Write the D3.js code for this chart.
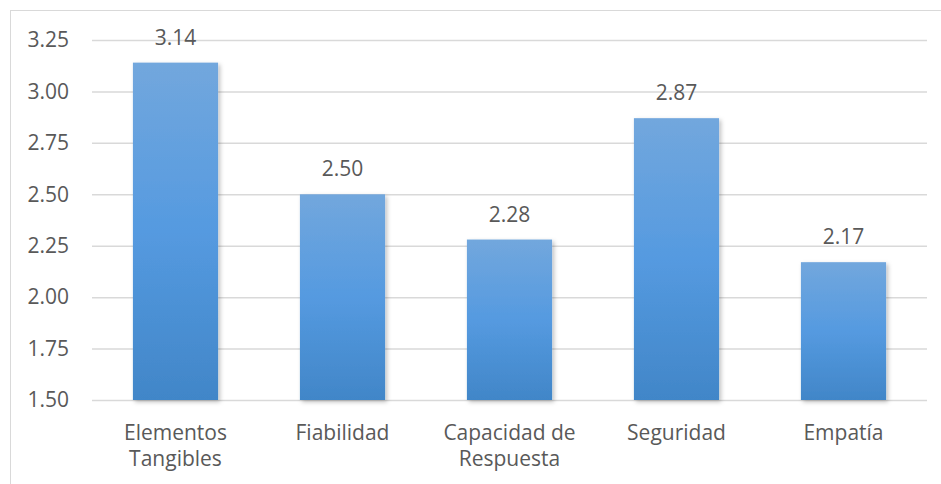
<!DOCTYPE html>
<html>
<head>
<meta charset="utf-8">
<script src="https://cdn.jsdelivr.net/npm/d3@7"></script>
<style>
  body { margin: 0; background: #fff; }
  svg text { font-family: "Open Sans", "Noto Sans", sans-serif; fill: #595959; }
</style>
</head>
<body>
<svg id="chart"></svg>
<script>
'use strict';

var categories = [['Elementos', 'Tangibles'], ['Fiabilidad'], ['Capacidad de', 'Respuesta'], ['Seguridad'], ['Empatía']];
var values = [3.14, 2.50, 2.28, 2.87, 2.17];
var yTicks = [1.50, 1.75, 2.00, 2.25, 2.50, 2.75, 3.00, 3.25];

var WIDTH = 941, HEIGHT = 484,
  MARGIN = { left: 92, right: 14, top: 40, bottom: 84 },
  FONT = '21px';

var svg = d3.select('#chart').attr('width', WIDTH).attr('height', HEIGHT);

var defs = svg.append('defs');
var grad = defs.append('linearGradient')
  .attr('id', 'barGrad').attr('x1', 0).attr('y1', 0).attr('x2', 0).attr('y2', 1);
grad.append('stop').attr('offset', '0%').attr('stop-color', '#72a7dd');
grad.append('stop').attr('offset', '50%').attr('stop-color', '#559ae0');
grad.append('stop').attr('offset', '100%').attr('stop-color', '#4186c8');

var shadow = defs.append('filter').attr('id', 'shadow')
  .attr('x', '-20%').attr('y', '-20%').attr('width', '140%').attr('height', '140%');
shadow.append('feDropShadow').attr('dx', 2).attr('dy', 2).attr('stdDeviation', 2)
  .attr('flood-color', '#000').attr('flood-opacity', 0.25);

// chart border
svg.append('rect')
  .attr('x', 10.5).attr('y', 10.5)
  .attr('width', WIDTH + 20).attr('height', HEIGHT + 20)
  .attr('fill', 'none').attr('stroke', '#d9d9d9');

var x = d3.scaleBand()
  .domain(d3.range(values.length))
  .range([MARGIN.left, WIDTH - MARGIN.right])
  .paddingInner(0.49).paddingOuter(0.245);

var y = d3.scaleLinear()
  .domain([1.5, 3.25])
  .range([HEIGHT - MARGIN.bottom, MARGIN.top]);

// y axis with gridlines
var yAxis = d3.axisLeft(y)
  .tickValues(yTicks)
  .tickSize(-(WIDTH - MARGIN.right - MARGIN.left))
  .tickPadding(23)
  .tickFormat(d3.format('.2f'));

var yg = svg.append('g')
  .attr('transform', 'translate(' + MARGIN.left + ',0)')
  .call(yAxis);
yg.select('.domain').remove();
yg.selectAll('line').attr('stroke', '#d9d9d9').attr('stroke-width', 1.5);
yg.selectAll('text').style('font-size', FONT).attr('fill', '#595959');

// bars
svg.append('g').selectAll('rect')
  .data(values)
  .join('rect')
  .attr('x', function(d, i) { return x(i); })
  .attr('y', function(d) { return y(d); })
  .attr('width', x.bandwidth())
  .attr('height', function(d) { return y(1.5) - y(d); })
  .attr('fill', 'url(#barGrad)')
  .attr('filter', 'url(#shadow)');

// value labels
svg.append('g').selectAll('text')
  .data(values)
  .join('text')
  .attr('x', function(d, i) { return x(i) + x.bandwidth() / 2; })
  .attr('y', function(d) { return y(d) - 18; })
  .attr('text-anchor', 'middle')
  .style('font-size', FONT)
  .text(function(d) { return d3.format('.2f')(d); });

// category labels
var cat = svg.append('g').selectAll('text')
  .data(categories)
  .join('text')
  .attr('x', function(d, i) { return x(i) + x.bandwidth() / 2; })
  .attr('y', y(1.5) + 40)
  .attr('text-anchor', 'middle')
  .style('font-size', FONT);
cat.selectAll('tspan')
  .data(function(d) { return d; })
  .join('tspan')
  .attr('x', function() { return this.parentNode.getAttribute('x'); })
  .attr('dy', function(d, i) { return i === 0 ? 0 : 26; })
  .text(function(d) { return d; });
</script>
</body>
</html>
